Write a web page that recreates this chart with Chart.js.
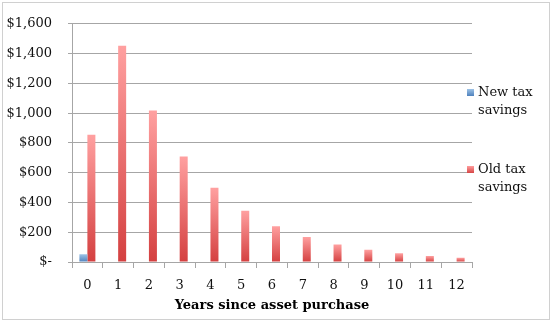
<!DOCTYPE html>
<html>
<head>
<meta charset="utf-8">
<script src="https://cdn.jsdelivr.net/npm/chart.js@4"></script>
<style>
    body { margin: 0; background: #fff; }
    #wrap { position: relative; width: 555px; height: 324px; }
    #frame { position: absolute; left: 2px; top: 2px; width: 548px; height: 318px; border: 1px solid #d0d0d0; box-sizing: border-box; pointer-events: none; }
    .leg { position: absolute; font: 13px "DejaVu Serif", serif; color: #111; line-height: 18px; }
    .leg span { position: absolute; left: -11px; top: 6px; width: 7px; height: 7px; }
</style>
</head>
<body>
<div id="wrap">
    <canvas id="chart" width="555" height="324"></canvas>
    <div id="frame"></div>
    <div class="leg" style="left:478px; top:83px;"><span style="background:linear-gradient(#9dc3e6,#4f81bd)"></span>New tax<br>savings</div>
    <div class="leg" style="left:478px; top:160px;"><span style="background:linear-gradient(#ff9d9d,#d64545)"></span>Old tax<br>savings</div>
</div>
<script>
    // Données
    const years = ['0', '1', '2', '3', '4', '5', '6', '7', '8', '9', '10', '11', '12'];
    const newTaxSavings = [52, 0, 0, 0, 0, 0, 0, 0, 0, 0, 0, 0, 0];
    const oldTaxSavings = [855, 1452, 1017, 708, 498, 345, 240, 168, 118, 82, 58, 40, 28];
    const seriesNames = ['New tax savings', 'Old tax savings'];

    const FONT = '"DejaVu Serif", serif';

    // Dégradé vertical par barre (clair en haut, foncé en bas)
    function barGradient(light, dark) {
        return (ctx) => {
            const chart = ctx.chart;
            if (!chart.chartArea || ctx.raw === undefined) return dark;
            const y = chart.scales.y;
            const top = y.getPixelForValue(ctx.raw);
            const base = y.getPixelForValue(0);
            if (base - top < 1) return dark;
            const g = chart.ctx.createLinearGradient(0, top, 0, base);
            g.addColorStop(0, light);
            g.addColorStop(1, dark);
            return g;
        };
    }

    new Chart(document.getElementById('chart'), {
        type: 'bar',
        data: {
            labels: years,
            datasets: [{
                label: seriesNames[0],
                data: newTaxSavings,
                backgroundColor: barGradient('#9dc3e6', '#4f81bd'),
                categoryPercentage: 0.52,
                barPercentage: 1
            }, {
                label: seriesNames[1],
                data: oldTaxSavings,
                backgroundColor: barGradient('#ffa0a0', '#d44040'),
                categoryPercentage: 0.52,
                barPercentage: 1
            }]
        },
        options: {
            responsive: false,
            animation: false,
            layout: { padding: { left: 0, right: 83, top: 7, bottom: 8 } },
            plugins: {
                legend: { display: false },
                tooltip: { enabled: false }
            },
            scales: {
                x: {
                    grid: { drawOnChartArea: false, drawTicks: true, tickLength: 6, color: '#a6a6a6' },
                    border: { color: '#a6a6a6' },
                    ticks: { color: '#111', font: { family: FONT, size: 13 }, padding: 10 },
                    title: {
                        display: true,
                        text: 'Years since asset purchase',
                        color: '#000',
                        font: { family: FONT, size: 13, weight: 'bold' },
                        padding: { top: 0, bottom: 3 }
                    },
                    afterFit: (scale) => { scale.height = 54; }
                },
                y: {
                    min: 0,
                    max: 1600,
                    grid: { color: '#a6a6a6', tickLength: 4 },
                    border: { color: '#a6a6a6' },
                    ticks: {
                        stepSize: 200,
                        color: '#111',
                        font: { family: FONT, size: 13 },
                        padding: 16,
                        callback: (v) => v === 0 ? '$-' : '$' + v.toLocaleString('en-US')
                    },
                    afterFit: (scale) => { scale.width = 72; }
                }
            }
        }
    });
</script>
</body>
</html>
